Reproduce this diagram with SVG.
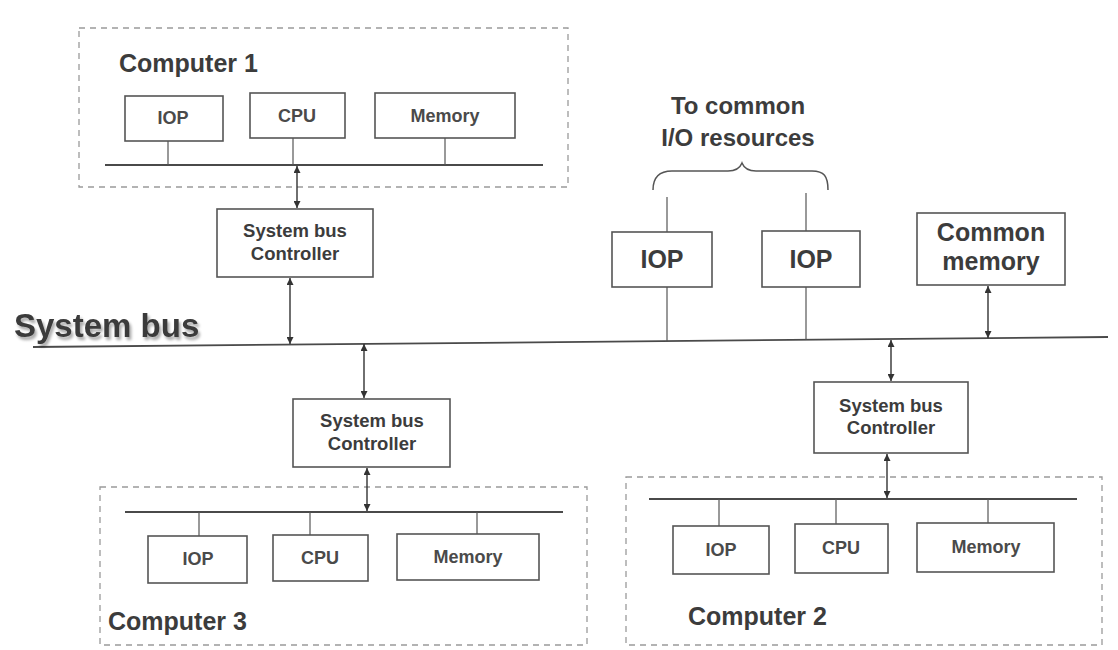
<svg xmlns="http://www.w3.org/2000/svg" width="1118" height="650" viewBox="0 0 1118 650">
<style>
.bg{fill:#ffffff}
.box{fill:#ffffff;stroke:#555;stroke-width:1.6}
.dash{fill:none;stroke:#9a9a9a;stroke-width:1.3;stroke-dasharray:6 5}
.bus{stroke:#4a4a4a;stroke-width:1.8;fill:none}
.link{stroke:#555;stroke-width:1.2;fill:none}
.arr{stroke:#333;stroke-width:1.4;fill:none;marker-start:url(#ah);marker-end:url(#ah)}
.t{font-family:"Liberation Sans",Arial,sans-serif;font-weight:bold;fill:#3c3c3c;text-anchor:middle}
.s{font-size:18px;fill:#4a4a4a}
.m{font-size:25px}
.h{font-size:25px;text-anchor:start}
.c{font-size:18.5px}
</style>
<defs>
<marker id="ah" viewBox="0 0 10 10" refX="10" refY="5" markerWidth="7" markerHeight="7" markerUnits="userSpaceOnUse" orient="auto-start-reverse">
<path d="M0,0 L10,5 L0,10 z" fill="#333"/>
</marker>
<filter id="sh" x="-10%" y="-30%" width="130%" height="170%">
<feGaussianBlur in="SourceAlpha" stdDeviation="1.5"/>
<feOffset dx="2" dy="3" result="b"/>
<feComponentTransfer><feFuncA type="linear" slope="0.35"/></feComponentTransfer>
<feMerge><feMergeNode/><feMergeNode in="SourceGraphic"/></feMerge>
</filter>
</defs>
<rect class="bg" x="0" y="0" width="1118" height="650"/>

<g id="computer1">
<rect class="dash" x="79" y="28" width="489" height="159"/>
<text class="t h" x="119" y="72">Computer 1</text>
<rect class="box" x="125" y="96" width="98" height="45"/>
<text class="t s" x="173" y="124">IOP</text>
<rect class="box" x="250" y="93" width="95" height="45"/>
<text class="t s" x="297" y="122">CPU</text>
<rect class="box" x="375" y="93" width="140" height="45"/>
<text class="t s" x="445" y="122">Memory</text>
<line class="bus" x1="105" y1="165" x2="543" y2="165"/>
</g>

<g id="controller1">
<rect class="box" x="217" y="209" width="156" height="68"/>
<text class="t c" x="295" y="237">System bus</text>
<text class="t c" x="295" y="260">Controller</text>
</g>

<g id="systembus">
<line class="bus" x1="33" y1="347" x2="1108" y2="337"/>
<text class="t" x="14" y="337" style="font-size:33px;text-anchor:start;fill:#3a3a3a" filter="url(#sh)">System bus</text>
</g>

<g id="iop1">
<rect class="box" x="612" y="232" width="100" height="55"/>
<text class="t m" x="662" y="268">IOP</text>
</g>
<g id="iop2">
<rect class="box" x="762" y="231" width="98" height="56"/>
<text class="t m" x="811" y="268">IOP</text>
</g>

<g id="ioresources">
<text class="t" x="738" y="114" style="font-size:24px">To common</text>
<text class="t" x="738" y="146" style="font-size:24px">I/O resources</text>
<path class="link" d="M653,190 C653,176 660,171 672,171 L728,171 C736,171 740,168 742,163 C744,168 748,171 756,171 L812,171 C824,171 828,176 828,190" style="stroke-width:1.5"/>
</g>

<g id="commonmemory">
<rect class="box" x="917" y="213" width="148" height="72"/>
<text class="t m" x="991" y="241">Common</text>
<text class="t m" x="991" y="270">memory</text>
</g>

<g id="controller3">
<rect class="box" x="293" y="399" width="157" height="68"/>
<text class="t c" x="372" y="427">System bus</text>
<text class="t c" x="372" y="450">Controller</text>
</g>

<g id="computer3">
<rect class="dash" x="100" y="487" width="487" height="158"/>
<line class="bus" x1="125" y1="512" x2="563" y2="512"/>
<rect class="box" x="148" y="536" width="99" height="47"/>
<text class="t s" x="198" y="565">IOP</text>
<rect class="box" x="273" y="535" width="95" height="46"/>
<text class="t s" x="320" y="564">CPU</text>
<rect class="box" x="397" y="534" width="142" height="46"/>
<text class="t s" x="468" y="563">Memory</text>
<text class="t h" x="108" y="630">Computer 3</text>
</g>

<g id="controller2">
<rect class="box" x="814" y="382" width="154" height="71"/>
<text class="t c" x="891" y="412">System bus</text>
<text class="t c" x="891" y="434">Controller</text>
</g>

<g id="computer2">
<rect class="dash" x="626" y="477" width="476" height="168"/>
<line class="bus" x1="649" y1="499" x2="1077" y2="499"/>
<rect class="box" x="673" y="526" width="96" height="48"/>
<text class="t s" x="721" y="556">IOP</text>
<rect class="box" x="795" y="524" width="93" height="49"/>
<text class="t s" x="841" y="554">CPU</text>
<rect class="box" x="917" y="523" width="137" height="49"/>
<text class="t s" x="986" y="553">Memory</text>
<text class="t h" x="688" y="625">Computer 2</text>
</g>

<g id="connectors">
<line class="link" x1="168" y1="141" x2="168" y2="165"/>
<line class="link" x1="293" y1="138" x2="293" y2="165"/>
<line class="link" x1="445" y1="138" x2="445" y2="165"/>
<line class="arr" x1="297" y1="166" x2="297" y2="208"/>
<line class="arr" x1="290" y1="278" x2="290" y2="344"/>
<line class="link" x1="667" y1="197" x2="667" y2="232"/>
<line class="link" x1="667" y1="287" x2="667" y2="341"/>
<line class="link" x1="806" y1="193" x2="806" y2="231"/>
<line class="link" x1="806" y1="287" x2="806" y2="340"/>
<line class="arr" x1="988" y1="286" x2="988" y2="338"/>
<line class="arr" x1="364" y1="344" x2="364" y2="398"/>
<line class="arr" x1="367" y1="468" x2="367" y2="511"/>
<line class="link" x1="199" y1="512" x2="199" y2="536"/>
<line class="link" x1="310" y1="512" x2="310" y2="535"/>
<line class="link" x1="477" y1="512" x2="477" y2="534"/>
<line class="arr" x1="891" y1="340" x2="891" y2="381"/>
<line class="arr" x1="887" y1="454" x2="887" y2="498"/>
<line class="link" x1="719" y1="499" x2="719" y2="526"/>
<line class="link" x1="836" y1="499" x2="836" y2="524"/>
<line class="link" x1="988" y1="499" x2="988" y2="523"/>
</g>
</svg>
